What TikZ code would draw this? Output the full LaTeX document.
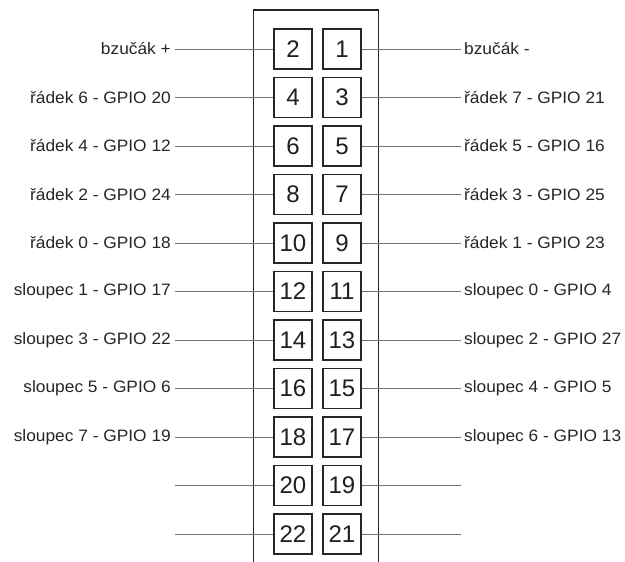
\documentclass[tikz,border=0pt]{standalone}
\usepackage{fontspec}
\setmainfont{Liberation Sans}
\newfontfamily\lblfont[FakeStretch=1.05]{Liberation Sans}
\begin{document}
\begin{tikzpicture}[x=1pt,y=-1pt,
    pin/.style={draw=black!85, line width=1.6pt, minimum width=38pt, minimum height=40pt,
                inner sep=0pt, font=\fontsize{24}{24}\selectfont, text=black!88},
    wire/.style={draw=black!55, line width=0.9pt},
    header/.style={draw=black!85, line width=1.8pt},
    lbl/.style={font=\lblfont\fontsize{16.5}{18}\selectfont, text=black!85, inner sep=0pt}]
  \useasboundingbox (0,0) rectangle (625,562);
  \fill[white] (0,0) rectangle (625,562);

  % connector housing, open towards the bottom
  \draw[header] (253.5,566) -- (253.5,10) -- (378.5,10) -- (378.5,566);

  % pins: even numbers on the left, odd numbers on the right
  \foreach \i in {0,...,10}{
    \pgfmathtruncatemacro{\odd}{2*\i+1}
    \pgfmathtruncatemacro{\even}{2*\i+2}
    \pgfmathsetmacro{\yy}{49+48.5*\i}
    \node[pin] (p\even) at (293,\yy) {\even};
    \node[pin] (p\odd)  at (342,\yy) {\odd};
    \coordinate (l\even) at (175,\yy);
    \coordinate (r\odd)  at (461,\yy);
    \draw[wire] (l\even) -- (p\even.west);
    \draw[wire] (p\odd.east) -- (r\odd);
  }

  % left labels
  \foreach \n/\t in {2/{bzučák +}, 4/{řádek 6 - GPIO 20}, 6/{řádek 4 - GPIO 12},
                     8/{řádek 2 - GPIO 24}, 10/{řádek 0 - GPIO 18},
                     12/{sloupec 1 - GPIO 17}, 14/{sloupec 3 - GPIO 22},
                     16/{sloupec 5 - GPIO 6}, 18/{sloupec 7 - GPIO 19}}
    \node[lbl, anchor=east] (t\n) at ([xshift=-4pt]l\n) {\t};

  % right labels
  \foreach \n/\t in {1/{bzučák -}, 3/{řádek 7 - GPIO 21}, 5/{řádek 5 - GPIO 16},
                     7/{řádek 3 - GPIO 25}, 9/{řádek 1 - GPIO 23},
                     11/{sloupec 0 - GPIO 4}, 13/{sloupec 2 - GPIO 27},
                     15/{sloupec 4 - GPIO 5}, 17/{sloupec 6 - GPIO 13}}
    \node[lbl, anchor=west] (t\n) at ([xshift=3pt]r\n) {\t};
\end{tikzpicture}
\end{document}
